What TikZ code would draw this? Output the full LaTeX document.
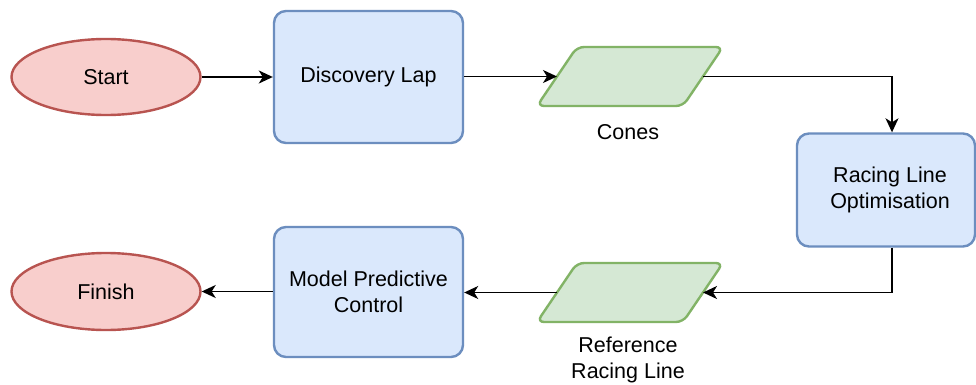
\documentclass[tikz,border=0pt]{standalone}
\usepackage{fontspec}
\setmainfont{Liberation Sans}
\usetikzlibrary{arrows.meta,calc,shapes.geometric}
\definecolor{redfill}{HTML}{F8CECC}
\definecolor{redline}{HTML}{B85450}
\definecolor{bluefill}{HTML}{DAE8FC}
\definecolor{blueline}{HTML}{6C8EBF}
\definecolor{greenfill}{HTML}{D5E8D4}
\definecolor{greenline}{HTML}{82B366}
\begin{document}
\begin{tikzpicture}[x=1pt,y=-1pt,
  every node/.style={font=\fontsize{21.5}{25.5}\selectfont, text=black},
  term/.style={ellipse, draw=redline, fill=redfill, line width=2.4pt, minimum width=189pt, minimum height=76pt, inner sep=0pt},
  proc/.style={rectangle, rounded corners=12pt, draw=blueline, fill=bluefill, line width=2.4pt, align=center, inner sep=0pt},
  datashape/.style={draw=greenline, fill=greenfill, line width=2.4pt, rounded corners=7pt},
  conn/.style={line width=1.6pt, -{Stealth[length=14pt,width=13pt,inset=4pt]}},
  lbl/.style={align=center, inner sep=0pt}
]
\useasboundingbox (0,0) rectangle (976,385);
\path[fill=white] (0,0) rectangle (976,385);

% nodes
\node[term] (start) at (106,77) {Start};
\node[proc, minimum width=189pt, minimum height=132pt] (disc) at (368.5,77) {Discovery Lap};
\node[proc, minimum width=178pt, minimum height=113pt] (rlo) at (886,190) {\hspace*{8pt}Racing Line\\\hspace*{8pt}Optimisation};
\node[proc, minimum width=189pt, minimum height=130pt] (mpc) at (368.5,292) {Model Predictive\\Control};
\node[term, minimum height=77pt] (finish) at (106,291.5) {Finish};

% data parallelograms
\draw[datashape] (537,106) -- (577,47) -- (723,47) -- (683,106) -- cycle;
\draw[datashape] (537,322) -- (577,263) -- (723,263) -- (683,322) -- cycle;
\coordinate (cones-w) at (557,76.5);
\coordinate (cones-e) at (703,76.5);
\coordinate (ref-w) at (557,292.5);
\coordinate (ref-e) at (703,292.5);
\coordinate (bend1) at (892,76.5);
\coordinate (bend2) at (892,292.5);

\node[lbl] (coneslbl) at (628,132) {Cones};
\node[lbl] (reflbl) at (628,360) {Reference\\Racing Line};

% connectors
\draw[conn] (start.east) -- (disc.west |- start.east);
\draw[conn] (disc.east |- cones-w) -- (cones-w);
\draw[conn] (cones-e) -- (bend1) -- (bend1 |- rlo.north);
\draw[conn] (bend1 |- rlo.south) -- (bend2) -- (ref-e);
\draw[conn] (ref-w) -- (mpc.east |- ref-w);
\draw[conn] (mpc.west |- finish.east) -- (finish.east);
\end{tikzpicture}
\end{document}
